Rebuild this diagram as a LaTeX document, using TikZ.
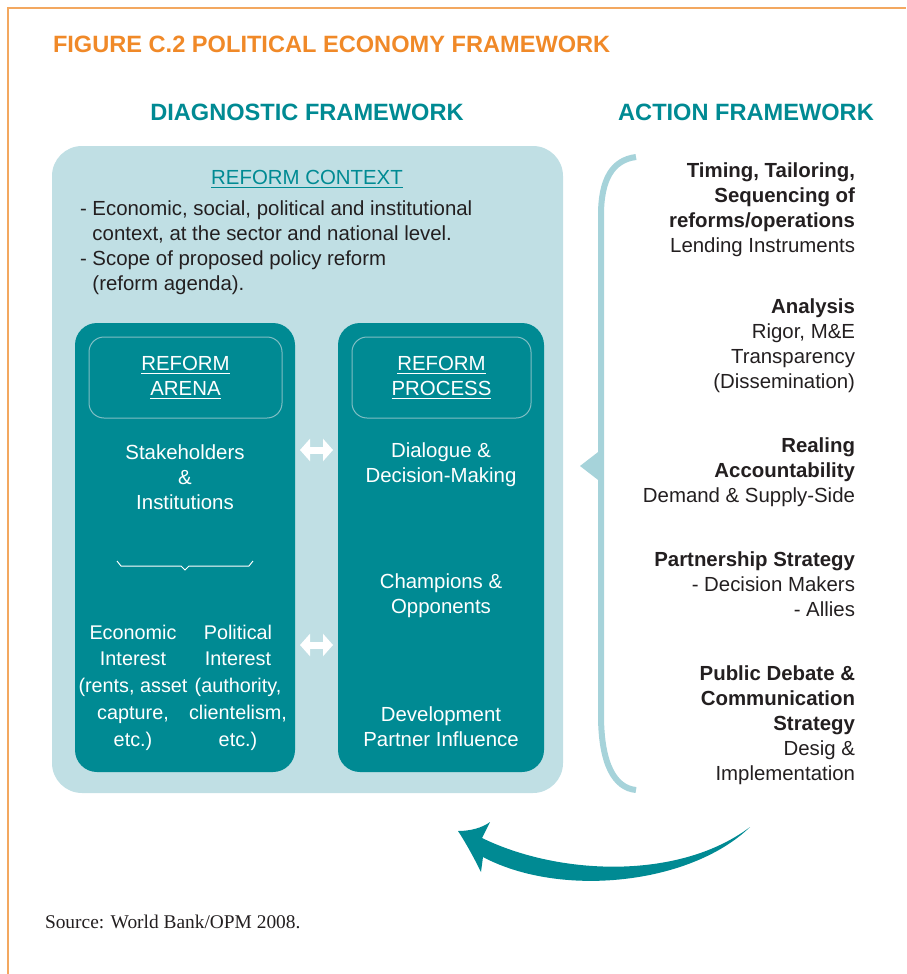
\documentclass[tikz,border=0pt]{standalone}
\usepackage{fontspec}
\setmainfont{Liberation Sans}
\newfontfamily\srcfont{Liberation Serif}
\usetikzlibrary{arrows.meta}

\definecolor{pubteal}{RGB}{0,138,147}
\definecolor{ctxblue}{RGB}{192,223,228}
\definecolor{bracketblue}{RGB}{166,211,218}
\definecolor{titleorange}{RGB}{240,137,40}
\definecolor{frameorange}{RGB}{243,168,96}
\definecolor{darktext}{RGB}{35,31,32}
\definecolor{headline}{RGB}{128,190,196}

\newcommand{\bodyfont}{\fontsize{10.2}{12.5}\selectfont}
\newcommand{\interestfont}{\fontsize{9.9}{13.35}\selectfont}
\newcommand{\headfont}{\fontsize{11.8}{14}\selectfont\bfseries}

\begin{document}
\begin{tikzpicture}[x=0.5pt,y=-0.5pt,
    every node/.style={inner sep=0pt,outer sep=0pt},
    ctxbox/.style={fill=ctxblue,rounded corners=15pt},
    darkbox/.style={fill=pubteal,rounded corners=11pt},
    headbox/.style={draw=headline,line width=0.5pt,rounded corners=7.5pt},
    bodytext/.style={font=\bodyfont,text=white,align=center},
    acttext/.style={font=\bodyfont,text=darktext,align=right,anchor=east},
    dblarrow/.style={white,line width=3.5pt,
      {Triangle[length=5pt,width=11pt]}-{Triangle[length=5pt,width=11pt]},
      shorten <=2.5pt,shorten >=2.5pt}]
  \useasboundingbox (0,0) rectangle (906,974);
  \draw[frameorange,line width=1pt] (8,974) -- (8,8) -- (906,8);

  % titles
  \node[anchor=west,font=\headfont,text=titleorange] (title) at (53,44)
    {FIGURE C.2 POLITICAL ECONOMY FRAMEWORK};
  \node[font=\headfont,text=pubteal] (diaghead) at (307,112) {DIAGNOSTIC FRAMEWORK};
  \node[font=\headfont,text=pubteal] (acthead) at (746,112) {ACTION FRAMEWORK};

  % diagnostic side
  \node[ctxbox,minimum width=255.5pt,minimum height=323.5pt] (context) at (307.5,469.5) {};
  \node[font=\bodyfont,text=pubteal] (ctxhead) at (307,179) {\underline{REFORM CONTEXT}};
  \node[anchor=west,font=\bodyfont,text=darktext,align=left] (ctxtext) at (80,248)
    {- Economic, social, political and institutional\\
     \phantom{- }context, at the sector and national level.\\
     - Scope of proposed policy reform\\
     \phantom{- }(reform agenda).};

  \node[darkbox,minimum width=110pt,minimum height=224.5pt] (arena) at (185,547.5) {};
  \node[darkbox,minimum width=103pt,minimum height=224.5pt] (process) at (441,547.5) {};
  \node[headbox,bodytext,minimum width=96.5pt,minimum height=40.5pt] (arenahead) at (185.5,377.5)
    {\underline{REFORM}\\\underline{ARENA}};
  \node[headbox,bodytext,minimum width=89.5pt,minimum height=40.5pt] (processhead) at (441.5,377.5)
    {\underline{REFORM}\\\underline{PROCESS}};

  \node[bodytext] (stake) at (185,477) {Stakeholders\\\&\\Institutions};
  \draw[white,line width=0.5pt] (117,561) -- (121,566) -- (181,566) -- (185,570)
    -- (189,566) -- (249,566) -- (253,561);
  \node[bodytext,font=\interestfont] (econ) at (133,687.5)
    {Economic\\Interest\\(rents, asset\\capture,\\etc.)};
  \node[bodytext,font=\interestfont] (polit) at (238,687.5)
    {Political\\Interest\\(authority,\\clientelism,\\etc.)};

  \node[bodytext] (dialogue) at (441,465) {Dialogue \&\\Decision-Making};
  \node[bodytext] (champions) at (441,595.5) {Champions \&\\Opponents};
  \node[bodytext] (partner) at (441,727) {Development\\Partner Influence};

  \draw[dblarrow] (arena.east |- 0,450) -- (process.west |- 0,450);
  \draw[dblarrow] (arena.east |- 0,645) -- (process.west |- 0,645);

  % action side
  \draw[bracketblue,line width=3pt] (636,157) .. controls (612,160) and (601,180) .. (601,215)
    -- (601,715) .. controls (601,765) and (615,788) .. (636,790);
  \fill[bracketblue] (602,449) -- (580,466) -- (602,483) -- cycle;

  \node[acttext] (timing) at (855,209.5)
    {\textbf{Timing, Tailoring,}\\\textbf{Sequencing of}\\\textbf{reforms/operations}\\Lending Instruments};
  \node[acttext] (analysis) at (855,345.5)
    {\textbf{Analysis}\\Rigor, M\&E\\Transparency\\(Dissemination)};
  \node[acttext] (account) at (855,472)
    {\textbf{Realing}\\\textbf{Accountability}\\Demand \& Supply-Side};
  \node[acttext] (partnership) at (855,584)
    {\textbf{Partnership Strategy}\\- Decision Makers\\- Allies};
  \node[acttext] (debate) at (855,725.5)
    {\textbf{Public Debate \&}\\\textbf{Communication}\\\textbf{Strategy}\\Desig \&\\Implementation};

  % feedback arrow
  \fill[pubteal] (458,831) .. controls (470,831) and (482,828) .. (490,822) -- (482,838)
    .. controls (560,876) and (680,880) .. (750,827)
    .. controls (690,885) and (560,898) .. (483,857) -- (481,872)
    .. controls (474,858) and (466,843) .. (458,831) -- cycle;

  \node[anchor=west,font=\srcfont\fontsize{9.7}{12}\selectfont,text=darktext] (source) at (45,922)
    {Source: World Bank/OPM 2008.};
\end{tikzpicture}
\end{document}
